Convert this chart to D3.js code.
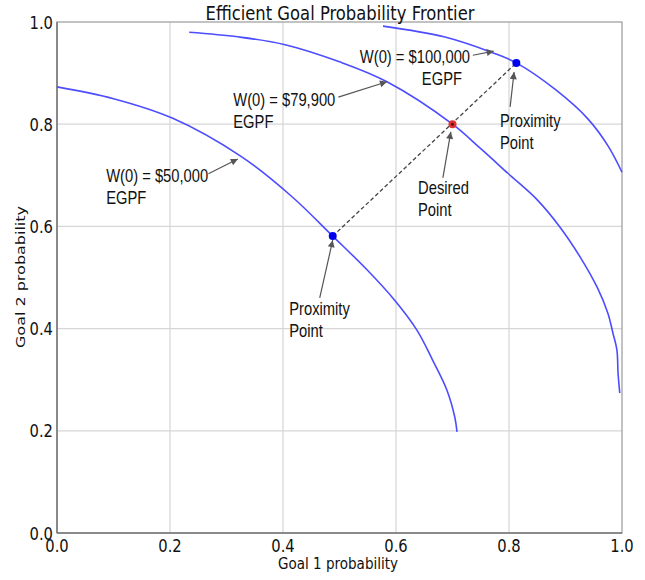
<!DOCTYPE html>
<html>
<head>
<meta charset="utf-8">
<script src="https://cdn.jsdelivr.net/npm/d3@7"></script>
<style>
  body { margin: 0; background: #fff; }
  svg { display: block; }
</style>
</head>
<body>
<svg id="chart" width="645" height="580"></svg>
<script>
// frontier for W(0) = $50,000
var egpf50_goal1 = [0, 0.1, 0.204, 0.327, 0.416, 0.488, 0.547, 0.598, 0.637, 0.665, 0.690, 0.704, 0.708];
var egpf50_goal2 = [0.873, 0.85, 0.812, 0.736, 0.658, 0.581, 0.517, 0.455, 0.397, 0.338, 0.280, 0.227, 0.198];

// frontier for W(0) = $79,900
var egpf79_goal1 = [0.234, 0.32, 0.402, 0.5, 0.584, 0.7, 0.749, 0.798, 0.850, 0.890, 0.926, 0.956, 0.975, 0.984, 0.991, 0.993, 0.996];
var egpf79_goal2 = [0.980, 0.971, 0.956, 0.922, 0.883, 0.8, 0.753, 0.704, 0.652, 0.599, 0.540, 0.481, 0.430, 0.391, 0.358, 0.313, 0.274];

// frontier for W(0) = $100,000
var egpf100_goal1 = [0.577, 0.685, 0.773, 0.813, 0.883, 0.94, 0.975, 1.0];
var egpf100_goal2 = [0.992, 0.971, 0.939, 0.920, 0.867, 0.81, 0.758, 0.706];

// proximity / desired points
var proximityLow = [0.488, 0.581];
var desiredPoint = [0.7, 0.8];
var proximityHigh = [0.813, 0.920];

var tickValues = [0, 0.2, 0.4, 0.6, 0.8, 1.0];
var titleText = "Efficient Goal Probability Frontier";
var xLabel = "Goal 1 probability";
var yLabel = "Goal 2 probability";

// annotation labels
var noteLines = [
  ["W(0) = $50,000", "EGPF"],
  ["W(0) = $79,900", "EGPF"],
  ["W(0) = $100,000", "EGPF"],
  ["Proximity", "Point"],
  ["Desired", "Point"],
  ["Proximity", "Point"]
];
// text anchor, arrow tail, arrow tip (data coords), 2nd line indent px
var noteLayout = [
  { text: [0.087, 0.687], tail: [0.268, 0.703], tip: [0.320, 0.732], indent: 0 },
  { text: [0.312, 0.836], tail: [0.498, 0.853], tip: [0.584, 0.883], indent: 0 },
  { text: [0.536, 0.920], tail: [0.736, 0.935], tip: [0.773, 0.943], indent: 62 },
  { text: [0.784, 0.795], tail: [0.802, 0.834], tip: [0.809, 0.902], indent: 0 },
  { text: [0.639, 0.663], tail: [0.683, 0.695], tip: [0.697, 0.785], indent: 0 },
  { text: [0.411, 0.427], tail: [0.465, 0.460], tip: [0.488, 0.573], indent: 0 }
];

var margin = {top: 22, right: 23, bottom: 47, left: 57},
    width = 645 - margin.left - margin.right,
    height = 580 - margin.top - margin.bottom;

var squash = 0.82;

var svg = d3.select("#chart");
var g = svg.append("g").attr("transform", "translate(" + margin.left + "," + margin.top + ")");

var x = d3.scaleLinear().domain([0, 1]).range([0, width]);
var y = d3.scaleLinear().domain([0, 1]).range([height, 0]);

// text helper, horizontally narrowed like the source picture
function label(sel, px, py, str, size, family, anchor) {
  return sel.append("text")
    .attr("transform", "translate(" + px + "," + py + ") scale(" + squash + ",1)")
    .attr("text-anchor", anchor || "start")
    .style("font-family", family)
    .style("font-size", size + "px")
    .attr("fill", "#111")
    .text(str);
}

// grid
g.append("g").selectAll("line.vg")
  .data(tickValues.slice(1, -1)).enter().append("line")
  .attr("x1", function (d) { return x(d); }).attr("x2", function (d) { return x(d); })
  .attr("y1", 0).attr("y2", height)
  .attr("stroke", "#d6d6d6").attr("stroke-width", 1.2);
g.append("g").selectAll("line.hg")
  .data(tickValues.slice(1, -1)).enter().append("line")
  .attr("y1", function (d) { return y(d); }).attr("y2", function (d) { return y(d); })
  .attr("x1", 0).attr("x2", width)
  .attr("stroke", "#d6d6d6").attr("stroke-width", 1.2);

// frame
g.append("rect").attr("width", width).attr("height", height)
  .attr("fill", "none").attr("stroke", "#9a9a9a").attr("stroke-width", 1.2);
g.append("line").attr("x1", 0).attr("x2", 0).attr("y1", 0).attr("y2", height)
  .attr("stroke", "#777").attr("stroke-width", 1.5);
g.append("line").attr("x1", 0).attr("x2", width).attr("y1", height).attr("y2", height)
  .attr("stroke", "#777").attr("stroke-width", 1.5);

// tick labels
var tfmt = d3.format(".1f");
tickValues.forEach(function (v) {
  label(g, x(v), height + 19, tfmt(v), 18, "DejaVu Sans", "middle");
  label(g, -4, y(v) + 6.5, tfmt(v), 18, "DejaVu Sans", "end");
});

// frontiers
var line = d3.line()
  .x(function (d) { return x(d[0]); })
  .y(function (d) { return y(d[1]); })
  .curve(d3.curveCatmullRom.alpha(0.5));

[[egpf50_goal1, egpf50_goal2], [egpf79_goal1, egpf79_goal2], [egpf100_goal1, egpf100_goal2]]
  .forEach(function (s) {
    g.append("path")
      .datum(d3.zip(s[0], s[1]))
      .attr("d", line)
      .attr("fill", "none")
      .attr("stroke", "#4d4dff")
      .attr("stroke-width", 1.6);
  });

// dashed link between proximity points
g.append("line")
  .attr("x1", x(proximityLow[0])).attr("y1", y(proximityLow[1]))
  .attr("x2", x(proximityHigh[0])).attr("y2", y(proximityHigh[1]))
  .attr("stroke", "#444").attr("stroke-width", 1.3)
  .attr("stroke-dasharray", "4,2.5");

// markers
[proximityLow, proximityHigh].forEach(function (p) {
  g.append("circle").attr("cx", x(p[0])).attr("cy", y(p[1])).attr("r", 4)
    .attr("fill", "#0000ee");
});
g.append("circle").attr("cx", x(desiredPoint[0])).attr("cy", y(desiredPoint[1])).attr("r", 4)
  .attr("fill", "#e03030");
g.append("circle").attr("cx", x(desiredPoint[0])).attr("cy", y(desiredPoint[1])).attr("r", 1.5)
  .attr("fill", "#551111");

// arrowhead
svg.append("defs").append("marker")
  .attr("id", "head")
  .attr("viewBox", "0 0 10 10")
  .attr("refX", 10).attr("refY", 5)
  .attr("markerWidth", 9).attr("markerHeight", 7)
  .attr("markerUnits", "userSpaceOnUse")
  .attr("orient", "auto")
  .append("path").attr("d", "M0,0 L10,5 L0,10 z").attr("fill", "#555");

// annotations
noteLayout.forEach(function (n, i) {
  g.append("line")
    .attr("x1", x(n.tail[0])).attr("y1", y(n.tail[1]))
    .attr("x2", x(n.tip[0])).attr("y2", y(n.tip[1]))
    .attr("stroke", "#555").attr("stroke-width", 1.2)
    .attr("marker-end", "url(#head)");
  var tx = x(n.text[0]), ty = y(n.text[1]);
  label(g, tx, ty, noteLines[i][0], 18, "Liberation Sans, Arial, sans-serif");
  label(g, tx + n.indent, ty + 22, noteLines[i][1], 18, "Liberation Sans, Arial, sans-serif");
});

// title and axis labels
label(svg, 340, 20, titleText, 20, "DejaVu Sans", "middle");
label(svg, 338, 569, xLabel, 16.5, "DejaVu Sans", "middle");
svg.append("text")
  .attr("transform", "translate(25,277) scale(" + squash + ",1) rotate(-90)")
  .attr("text-anchor", "middle")
  .style("font-family", "DejaVu Sans")
  .style("font-size", "16px")
  .attr("fill", "#111")
  .text(yLabel);
</script>
</body>
</html>
